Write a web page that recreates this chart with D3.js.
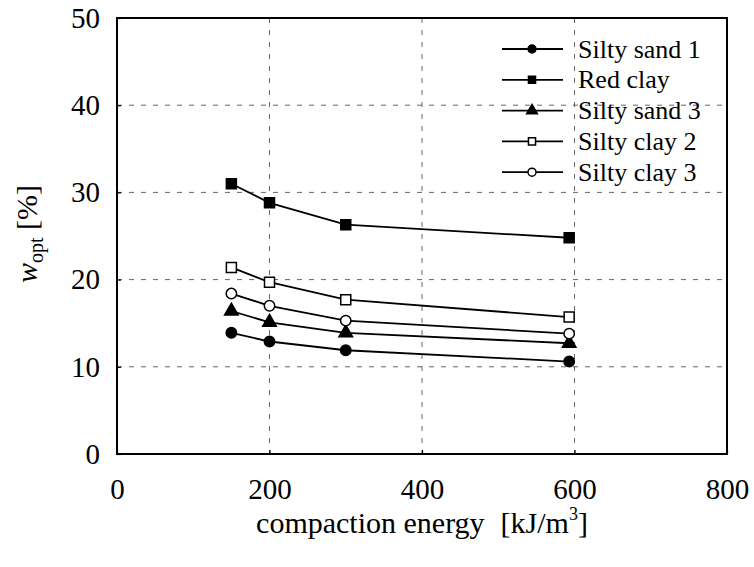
<!DOCTYPE html>
<html>
<head>
<meta charset="utf-8">
<script src="https://cdn.jsdelivr.net/npm/d3@7"></script>
<style>
	body { margin: 0; background: #fff; }
	svg { display: block; }
	svg text { font-family: "Liberation Serif", "DejaVu Serif", "Times New Roman", Times, serif; }
</style>
</head>
<body>
<script>
// data
var energy = [150, 200, 300, 593];
var siltySand1 = [13.9, 12.9, 11.9, 10.6];
var redClay = [31.0, 28.8, 26.3, 24.8];
var siltySand3 = [16.4, 15.1, 13.9, 12.7];
var siltyClay2 = [21.4, 19.7, 17.7, 15.7];
var siltyClay3 = [18.4, 17.0, 15.3, 13.8];

var seriesNames = ["Silty sand 1", "Red clay", "Silty sand 3", "Silty clay 2", "Silty clay 3"];
var seriesValues = [siltySand1, redClay, siltySand3, siltyClay2, siltyClay3];
var seriesMarkers = ["circle", "square", "triangle", "square", "circle"];
var seriesFilled = [true, true, true, false, false];

var xTicks = [0, 200, 400, 600, 800];
var yTicks = [0, 10, 20, 30, 40, 50];

var svg = d3.select("body").append("svg")
	.attr("width", 754)
	.attr("height", 567);

var margin = {top: 18, right: 27, bottom: 113, left: 117},
	width = +svg.attr("width") - margin.left - margin.right,
	height = +svg.attr("height") - margin.top - margin.bottom,
	g = svg.append("g").attr("transform", translate(margin.left, margin.top));

function translate(x, y)
{
	return "translate(" + x + "," + y + ")";
}

var x = d3.scaleLinear().domain([0, 800]).range([0, width]);
var y = d3.scaleLinear().domain([0, 50]).range([height, 0]);

var symbolType = {
	circle: d3.symbolCircle,
	square: d3.symbolSquare,
	triangle: d3.symbolTriangle
};

// grid
var grid = g.append("g")
	.attr("stroke", "#555")
	.attr("stroke-width", 0.9)
	.attr("stroke-dasharray", "5,7");

grid.selectAll(".hgrid")
	.data(yTicks.filter(function(d){return d > 0 && d < 50;}))
	.enter().append("line")
		.attr("x1", 0)
		.attr("x2", width)
		.attr("y1", function(d){return y(d);})
		.attr("y2", function(d){return y(d);});

grid.selectAll(".vgrid")
	.data(xTicks.filter(function(d){return d > 0 && d < 800;}))
	.enter().append("line")
		.attr("y1", 0)
		.attr("y2", height)
		.attr("x1", function(d){return x(d);})
		.attr("x2", function(d){return x(d);});

// axes
var xAxis = g.append("g")
	.attr("transform", translate(0, height))
	.call(d3.axisBottom(x).tickValues(xTicks).tickSize(-4).tickPadding(24));
var yAxis = g.append("g")
	.call(d3.axisLeft(y).tickValues(yTicks).tickSize(-4).tickPadding(17));

[xAxis, yAxis].forEach(function(a)
{
	a.attr("font-family", null).attr("font-size", null);
	a.select(".domain").remove();
	a.selectAll("line").attr("stroke", "#000").attr("stroke-width", 1.2);
	a.selectAll("text")
		.attr("font-size", 29)
		.attr("fill", "#000");
});
xAxis.selectAll("text").attr("dy", "0.71em");

// frame
g.append("rect")
	.attr("width", width)
	.attr("height", height)
	.attr("fill", "none")
	.attr("stroke", "#000")
	.attr("stroke-width", 2);

// series
var line = d3.line()
	.x(function(d){return x(d[0]);})
	.y(function(d){return y(d[1]);});

function drawMarker(sel, i, size)
{
	sel.append("path")
		.attr("d", d3.symbol().type(symbolType[seriesMarkers[i]]).size(size[seriesMarkers[i]]))
		.attr("fill", seriesFilled[i] ? "#000" : "#fff")
		.attr("stroke", "#000")
		.attr("stroke-width", 1.5);
}

var plotSizes = {circle: 85, square: 100, triangle: 80};
var legendSizes = {circle: 50, square: 50, triangle: 50};

seriesValues.forEach(function(vals, i)
{
	var pts = energy.map(function(e, j){return [e, vals[j]];});
	g.append("path")
		.datum(pts)
		.attr("fill", "none")
		.attr("stroke", "#000")
		.attr("stroke-width", 1.8)
		.attr("d", line);

	g.selectAll(".m" + i)
		.data(pts)
		.enter().append("g")
			.attr("class", "m" + i)
			.attr("transform", function(d){return translate(x(d[0]), y(d[1]));})
			.each(function(){drawMarker(d3.select(this), i, plotSizes);});
});

// legend
var legend = svg.append("g")
	.selectAll("g")
	.data(seriesNames)
	.enter().append("g")
		.attr("transform", function(d, i){return translate(502, 49 + i * 30.8);});

legend.append("line")
	.attr("x1", 0)
	.attr("x2", 61)
	.attr("stroke", "#000")
	.attr("stroke-width", 1.8);

legend.append("g")
	.attr("transform", translate(30, 0))
	.each(function(d, i){drawMarker(d3.select(this), i, legendSizes);});

legend.append("text")
	.attr("x", 76)
	.attr("dy", "0.33em")
	.attr("font-size", 26)
	.text(function(d){return d;});

// axis titles
var xTitle = svg.append("text")
	.attr("x", margin.left + width / 2)
	.attr("y", 533)
	.attr("text-anchor", "middle")
	.attr("font-size", 30);
xTitle.append("tspan").text("compaction energy");
xTitle.append("tspan").attr("dx", 16).text("[kJ/m");
xTitle.append("tspan").attr("font-size", 18).attr("dy", -13).text("3");
xTitle.append("tspan").attr("dy", 13).text("]");

var yTitle = svg.append("text")
	.attr("transform", translate(37, 234) + " rotate(-90)")
	.attr("text-anchor", "middle")
	.attr("font-size", 30);
yTitle.append("tspan").attr("font-style", "italic").text("w");
yTitle.append("tspan").attr("font-size", 20).attr("dy", 6).text("opt");
yTitle.append("tspan").attr("dy", -6).text(" [%]");
</script>
</body>
</html>
